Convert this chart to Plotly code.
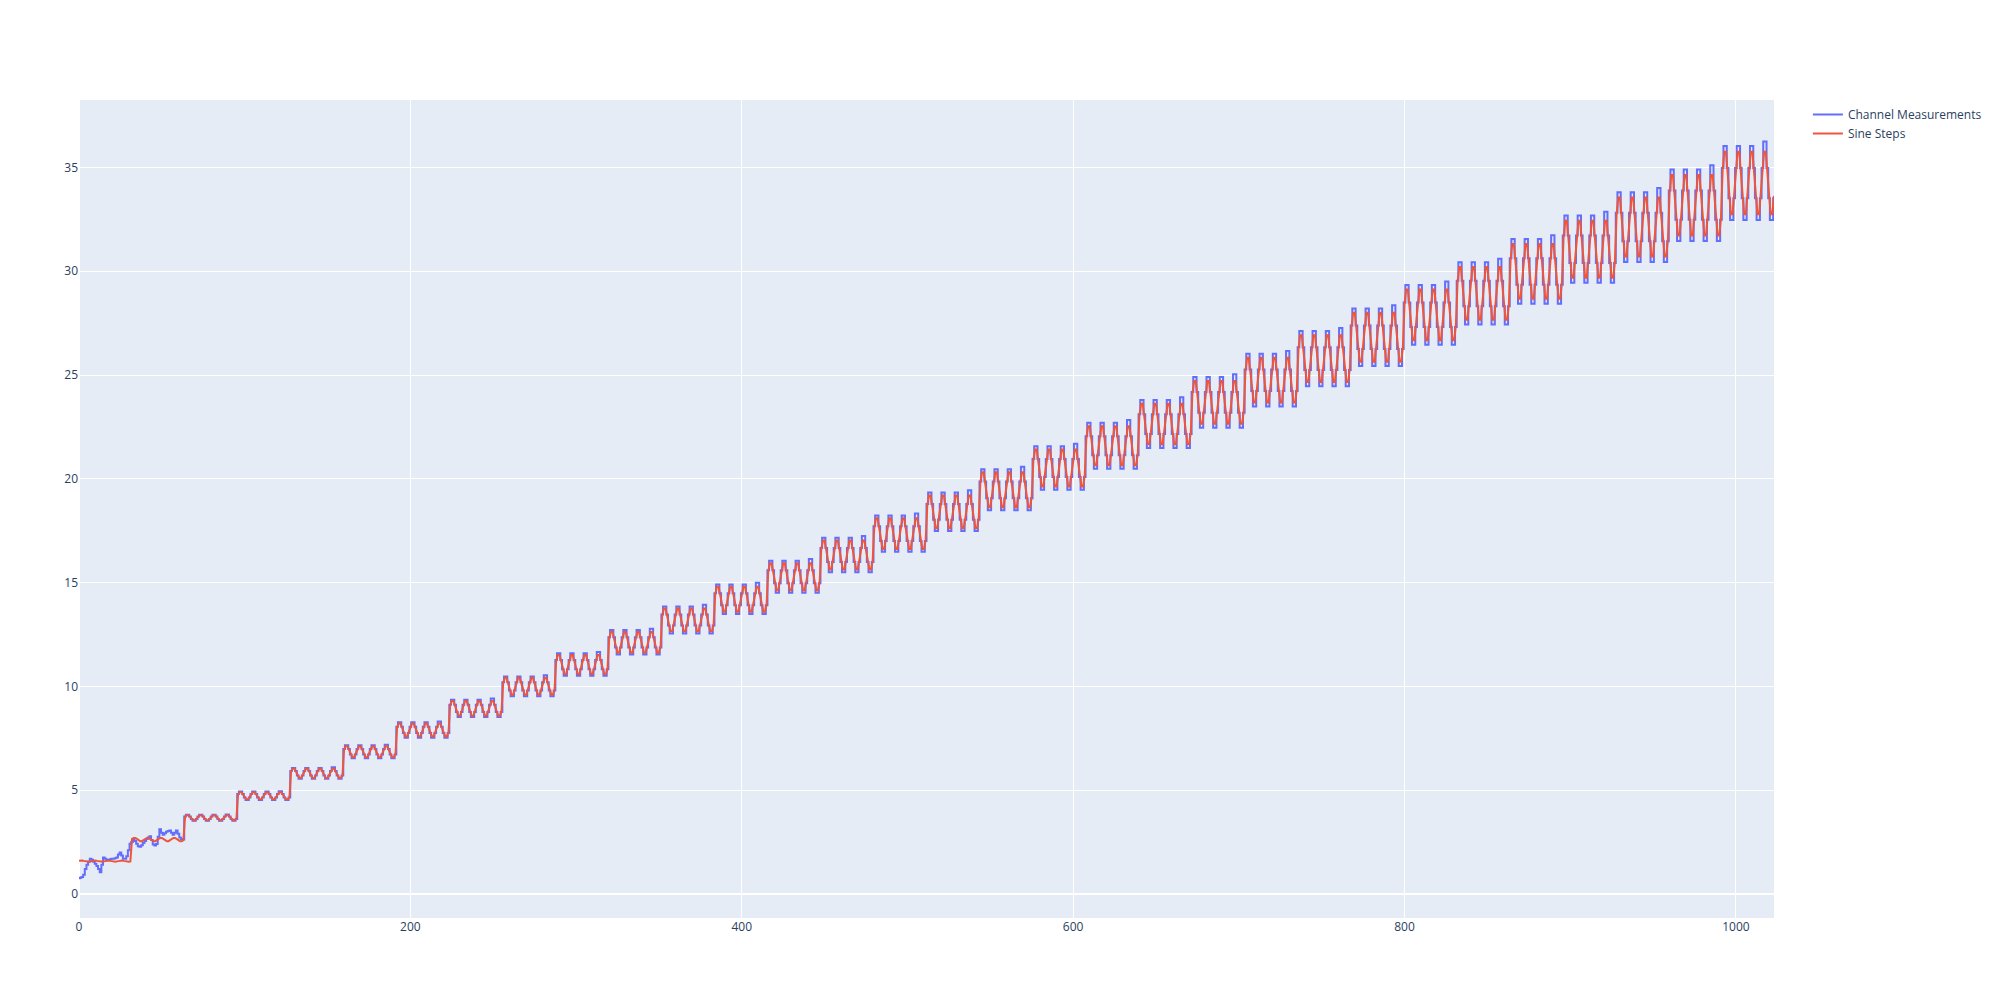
import numpy as np
import plotly.graph_objects as go

# ---- data ----
step_length = 32          # samples per step
# one 8-sample period (relative to the peak deviation); peaks span two samples
cycle_shape = [0.41, 1.0, 1.0, 0.41, -0.41, -1.0, -1.0, -0.41]

step_levels = [1.58, 2.62, 3.67, 4.73, 5.81, 6.85, 7.90, 8.94, 10.00, 11.05,
               12.12, 13.20, 14.20, 15.28, 16.33, 17.36, 18.41, 19.47, 20.52, 21.59,
               22.64, 23.68, 24.75, 25.79, 26.82, 27.90, 28.93, 29.99, 31.06, 32.13,
               33.18, 34.25]
# peak deviation of the ideal sine steps
sine_amplitudes = [0.03, 0.08, 0.12, 0.17, 0.22, 0.26, 0.31, 0.36, 0.41, 0.46,
                   0.50, 0.55, 0.60, 0.65, 0.70, 0.74, 0.79, 0.84, 0.89, 0.94,
                   0.98, 1.03, 1.08, 1.13, 1.18, 1.22, 1.27, 1.32, 1.37, 1.42,
                   1.46, 1.51]
# peak deviation seen in the channel measurements
measured_amplitudes = [0.03, 0.08, 0.14, 0.20, 0.26, 0.31, 0.37, 0.42, 0.48, 0.54,
                       0.59, 0.65, 0.71, 0.77, 0.83, 0.87, 0.93, 0.99, 1.05, 1.11,
                       1.16, 1.22, 1.27, 1.33, 1.39, 1.44, 1.50, 1.56, 1.62, 1.68,
                       1.72, 1.78]
# overshoot of the last peak of each step (channel measurements)
final_peak_boost = [0.0, 0.0, 0.02, 0.02, 0.03, 0.03, 0.04, 0.05, 0.06, 0.06,
                    0.07, 0.08, 0.08, 0.09, 0.09, 0.10, 0.11, 0.12, 0.12, 0.13,
                    0.13, 0.14, 0.14, 0.15, 0.15, 0.16, 0.17, 0.18, 0.19, 0.20,
                    0.21, 0.22]
# first 64 channel measurements (they differ from the sine steps)
early_measurements = [0.75, 0.78, 0.82, 0.92, 1.20, 1.40, 1.55, 1.69, 1.65, 1.55,
                      1.45, 1.35, 1.20, 1.05, 1.40, 1.75, 1.70, 1.64, 1.65, 1.67,
                      1.69, 1.70, 1.72, 1.76, 1.90, 2.00, 1.85, 1.70, 1.70, 1.82,
                      2.10, 2.42, 2.50, 2.60, 2.55, 2.42, 2.30, 2.27, 2.35, 2.45,
                      2.55, 2.65, 2.72, 2.78, 2.60, 2.38, 2.33, 2.40, 2.75, 3.12,
                      2.95, 2.85, 2.92, 3.00, 3.03, 3.05, 2.95, 2.85, 2.95, 3.05,
                      2.90, 2.72, 2.65, 2.62]

# ---- build series ----
sine_steps = []
measurements = []
for level, a_sine, a_meas in zip(step_levels, sine_amplitudes, measured_amplitudes):
    for n in range(step_length):
        shape = cycle_shape[n % len(cycle_shape)]
        sine_steps.append(level + a_sine * shape)
        measurements.append(level + a_meas * shape)
sine_steps = np.array(sine_steps)
measurements = np.array(measurements)

measurements[:len(early_measurements)] = early_measurements
for s, boost in enumerate(final_peak_boost):
    measurements[s * step_length + 25] += boost
    measurements[s * step_length + 26] += boost

x = np.arange(len(sine_steps))

fig = go.Figure()
fig.add_trace(go.Scatter(x=x, y=measurements, mode="lines", name="Channel Measurements",
                         line=dict(color="#636efa", width=2, shape="hvh")))
fig.add_trace(go.Scatter(x=x, y=sine_steps, mode="lines", name="Sine Steps",
                         line=dict(color="#EF553B", width=2)))

# the page adds an 8px body margin; size/margins compensate so the plot area
# lands where the reference has it
fig.update_layout(template="plotly", width=1984, height=984,
                  margin=dict(l=71, r=218, t=92, b=74, autoexpand=False))
fig.update_xaxes(range=[0, 1023])
fig.update_yaxes(range=[-1.16, 38.25])

fig.write_html("out.html")
